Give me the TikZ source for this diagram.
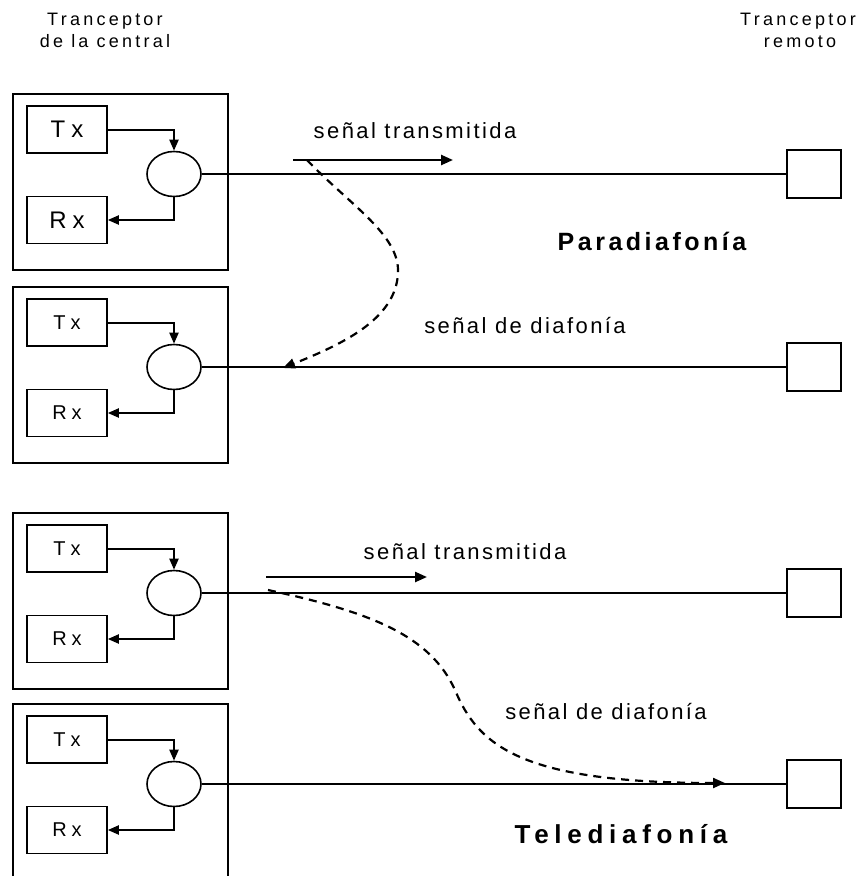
\documentclass[tikz,border=0pt]{standalone}
\usepackage{fontspec}
\setmainfont{Liberation Sans}[LetterSpace=11]
\newfontfamily\hdfont{Liberation Sans}[LetterSpace=18]
\newfontfamily\boxfont{Liberation Sans}[LetterSpace=25]
\newfontfamily\parafont{Liberation Sans}[LetterSpace=14]
\newfontfamily\telefont{Liberation Sans}[LetterSpace=22]
\usetikzlibrary{arrows.meta,shapes.geometric}
\begin{document}
\begin{tikzpicture}[x=1pt,y=-1pt,
  outerbox/.style={draw,line width=1.6pt},
  smallbox/.style={draw,line width=1.6pt,minimum width=80pt,minimum height=47pt,inner sep=0pt},
  hyb/.style={draw,ellipse,line width=1.6pt,minimum width=54pt,minimum height=45pt,inner sep=0pt},
  remote/.style={draw,line width=1.6pt,minimum width=54pt,minimum height=48pt,inner sep=0pt},
  wire/.style={line width=1.7pt},
  feed/.style={line width=2pt,-{Triangle[length=11pt,width=9pt]}},
  sig/.style={line width=2.4pt,-{Triangle[length=12pt,width=10pt]}},
  xtalk/.style={line width=2.2pt,dash pattern=on 8pt off 6pt,-{Triangle[length=12pt,width=10pt]}},
  lbl/.style={font=\fontsize{22}{26}\selectfont,anchor=base},
  head/.style={font=\hdfont\fontsize{18}{22}\selectfont,anchor=base},
  title/.style={anchor=base}
]
\useasboundingbox (0,0) rectangle (859,876);
\fill[white] (0,0) rectangle (859,876);

% headers
\node[head] (hc1) at (105,25) {Tranceptor};
\node[head] (hc2) at (105,47) {de la central};
\node[head] (hr1) at (798,25) {Tranceptor};
\node[head] (hr2) at (800,47) {remoto};

% transceiver units: name, top y, font size
\foreach \n/\t/\fs in {a/94/24,b/287/20,c/513/20,d/704/20}{
  \draw[outerbox] (13,\t) rectangle (228,\t+176);
  \node[smallbox,font=\boxfont\fontsize{\fs}{\fs}\selectfont] (tx\n) at (67,\t+35.5) {Tx};
  \node[smallbox,font=\boxfont\fontsize{\fs}{\fs}\selectfont] (rx\n) at (67,\t+126) {Rx};
  \node[hyb] (h\n) at (174,\t+80) {};
  \node[remote] (r\n) at (814,\t+80) {};
  \draw[feed] (tx\n.east) -| (h\n.north);
  \draw[feed] (h\n.south) |- (rx\n.east);
  \draw[wire] (h\n.east) -- (r\n.west);
}

% Paradiafonia
\coordinate (s1a) at (293,160);
\coordinate (s1b) at (453,160);
\draw[sig] (s1a) -- (s1b);
\node[lbl] (t1) at (415,138) {señal transmitida};
\coordinate (x1a) at (307,160);
\coordinate (x1m) at (398,273);
\coordinate (x1b) at (283,368);
\draw[xtalk] (x1a) .. controls (350,205) and (400,235) .. (x1m)
  .. controls (396,320) and (340,345) .. (x1b);
\node[lbl] (d1) at (525,333) {señal de diafonía};
\node[title,font=\parafont\bfseries\fontsize{25}{29}\selectfont] (p1) at (652,250) {Paradiafonía};

% Telediafonia
\coordinate (s2a) at (266,577);
\coordinate (s2b) at (427,577);
\draw[sig] (s2a) -- (s2b);
\node[lbl] (t2) at (465,559) {señal transmitida};
\coordinate (x2a) at (268,590);
\coordinate (x2m) at (455,690);
\coordinate (x2b) at (725,783);
\draw[xtalk] (x2a) .. controls (370,612) and (430,635) .. (x2m)
  .. controls (478,745) and (520,783) .. (x2b);
\node[lbl] (d2) at (606,719) {señal de diafonía};
\node[title,font=\telefont\bfseries\fontsize{26}{30}\selectfont] (p2) at (621,843) {Telediafonía};
\end{tikzpicture}
\end{document}
